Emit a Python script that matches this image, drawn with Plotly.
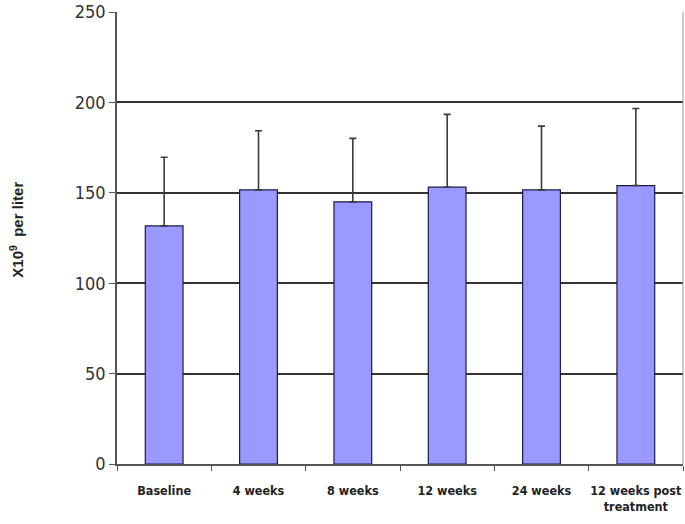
import plotly.graph_objects as go

categories = ["Baseline", "4 weeks", "8 weeks", "12 weeks", "24 weeks", "12 weeks post<br>treatment"]
means = [131.7, 151.6, 145.0, 153.1, 151.6, 154.0]
sd_upper = [38.0, 32.7, 35.1, 40.3, 35.3, 42.6]
y_ticks = [0, 50, 100, 150, 200, 250]

fig = go.Figure()
fig.add_trace(go.Bar(
    x=categories, y=means,
    marker=dict(color="#9999FF", line=dict(color="#1a1a4a", width=1.2)),
    error_y=dict(type="data", array=sd_upper, symmetric=False, arrayminus=[0]*6,
                 color="#3a3a3a", thickness=1.6, width=3.5),
    width=0.40,
))

narrow = "DejaVu Sans Condensed, Liberation Sans Narrow, Arial Narrow, sans-serif"
fig.update_layout(
    width=685, height=524,
    margin=dict(l=117, r=2, t=12, b=60),
    paper_bgcolor="white", plot_bgcolor="white",
    showlegend=False,
    xaxis=dict(
        automargin=False, tickangle=0,
        showline=True, linecolor="#555555", linewidth=1.5,
        ticks="outside", tickson="boundaries", ticklen=5, tickcolor="#555555",
        tickfont=dict(family=narrow, size=12.5, color="#222222", weight="bold"),
        ticklabelstandoff=14,
        showgrid=False,
    ),
    yaxis=dict(
        automargin=False,
        range=[0, 250], tickvals=y_ticks,
        showline=True, linecolor="#555555", linewidth=1.5,
        ticks="outside", ticklen=6, tickcolor="#555555",
        tickfont=dict(family=narrow, size=18, color="#333333"),
        showgrid=True, gridcolor="#333333", gridwidth=1.5,
        zeroline=False,
    ),
    annotations=[dict(
        text="X10<sup>9</sup>&nbsp; per liter", textangle=-90,
        xref="paper", yref="paper", x=-0.177, y=0.518, xanchor="center", yanchor="middle",
        showarrow=False,
        font=dict(family="Liberation Sans, Arial, sans-serif", size=15, color="#222222", weight="bold"),
    )],
    shapes=[dict(type="line", xref="paper", yref="paper", x0=1, x1=1, y0=0, y1=1,
                 line=dict(color="#999999", width=1))],
)

fig.write_html("out.html", config={"displayModeBar": False},
               post_script="document.body.style.margin='0';")
